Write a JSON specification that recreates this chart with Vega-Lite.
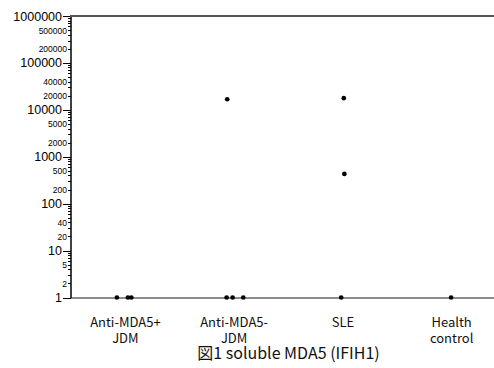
{
  "$schema": "https://vega.github.io/schema/vega-lite/v6.json",
  "autosize": {"type": "none"},
  "width": 435,
  "height": 281.5,
  "padding": {"left": 70.5, "top": 16, "right": 0, "bottom": 70.5},
  "background": "white",
  "config": {"view": {"stroke": null}},
  "data": {
    "values": [
      {"group": "Anti-MDA5+ JDM", "jitter": -8, "value": 1},
      {"group": "Anti-MDA5+ JDM", "jitter": 3, "value": 1},
      {"group": "Anti-MDA5+ JDM", "jitter": 6.5, "value": 1},
      {"group": "Anti-MDA5- JDM", "jitter": -6.4, "value": 16800},
      {"group": "Anti-MDA5- JDM", "jitter": -7, "value": 1},
      {"group": "Anti-MDA5- JDM", "jitter": -1, "value": 1},
      {"group": "Anti-MDA5- JDM", "jitter": 9.6, "value": 1},
      {"group": "SLE", "jitter": 1.4, "value": 17700},
      {"group": "SLE", "jitter": 2, "value": 430},
      {"group": "SLE", "jitter": -1.2, "value": 1},
      {"group": "Health control", "jitter": 0, "value": 1}
    ]
  },
  "layer": [
    {
      "mark": {"type": "rule", "color": "#555555", "strokeWidth": 2},
      "encoding": {"y": {"datum": 1000000, "type": "quantitative"}}
    },
    {
      "mark": {"type": "circle", "color": "black", "opacity": 1, "size": 22},
      "encoding": {
        "x": {
          "field": "group",
          "type": "nominal",
          "sort": ["Anti-MDA5+ JDM", "Anti-MDA5- JDM", "SLE", "Health control"],
          "scale": {"type": "point", "padding": 0.5},
          "axis": {
            "title": "図1 soluble MDA5 (IFIH1)",
            "titleFont": "Noto Sans CJK JP",
            "titleFontSize": 16,
            "titleFontWeight": "normal",
            "titleColor": "#111111",
            "titlePadding": 0,
            "labelExpr": "split(datum.label, ' ')",
            "labelFont": "Noto Sans CJK JP",
            "labelFontSize": 13,
            "labelColor": "#111111",
            "labelLineHeight": 16,
            "labelAngle": 0,
            "labelBaseline": "middle",
            "labelPadding": 25,
            "ticks": false,
            "domainColor": "#666666",
            "domainWidth": 1.5,
            "grid": false
          }
        },
        "xOffset": {
          "field": "jitter",
          "type": "quantitative",
          "scale": {"domain": [-50, 50], "range": [-50, 50]},
          "legend": null
        },
        "y": {
          "field": "value",
          "type": "quantitative",
          "scale": {"type": "log", "domain": [1, 1000000], "nice": false},
          "axis": {
            "title": null,
            "grid": false,
            "domainColor": "black",
            "domainWidth": 1.5,
            "tickColor": "black",
            "tickWidth": 1,
            "tickSize": {
              "condition": {"test": "indexof([1,10,100,1000,10000,100000,1000000], datum.value) >= 0", "value": 8},
              "value": 3
            },
            "values": [1,2,3,4,5,6,7,8,9,10,20,30,40,50,60,70,80,90,100,200,300,400,500,600,700,800,900,1000,2000,3000,4000,5000,6000,7000,8000,9000,10000,20000,30000,40000,50000,60000,70000,80000,90000,100000,200000,300000,400000,500000,600000,700000,800000,900000,1000000],
            "labelExpr": "indexof([1,2,5,10,20,40,100,200,500,1000,2000,5000,10000,20000,40000,100000,200000,500000,1000000], datum.value) >= 0 ? format(datum.value, 'd') : ''",
            "labelOverlap": false,
            "labelBound": false,
            "labelFlush": false,
            "labelFont": "Liberation Sans",
            "labelColor": "black",
            "labelFontSize": {
              "condition": {"test": "indexof([1,10,100,1000,10000,100000,1000000], datum.value) >= 0", "value": 12.5},
              "value": 8.5
            },
            "labelPadding": 1
          }
        }
      }
    }
  ]
}
